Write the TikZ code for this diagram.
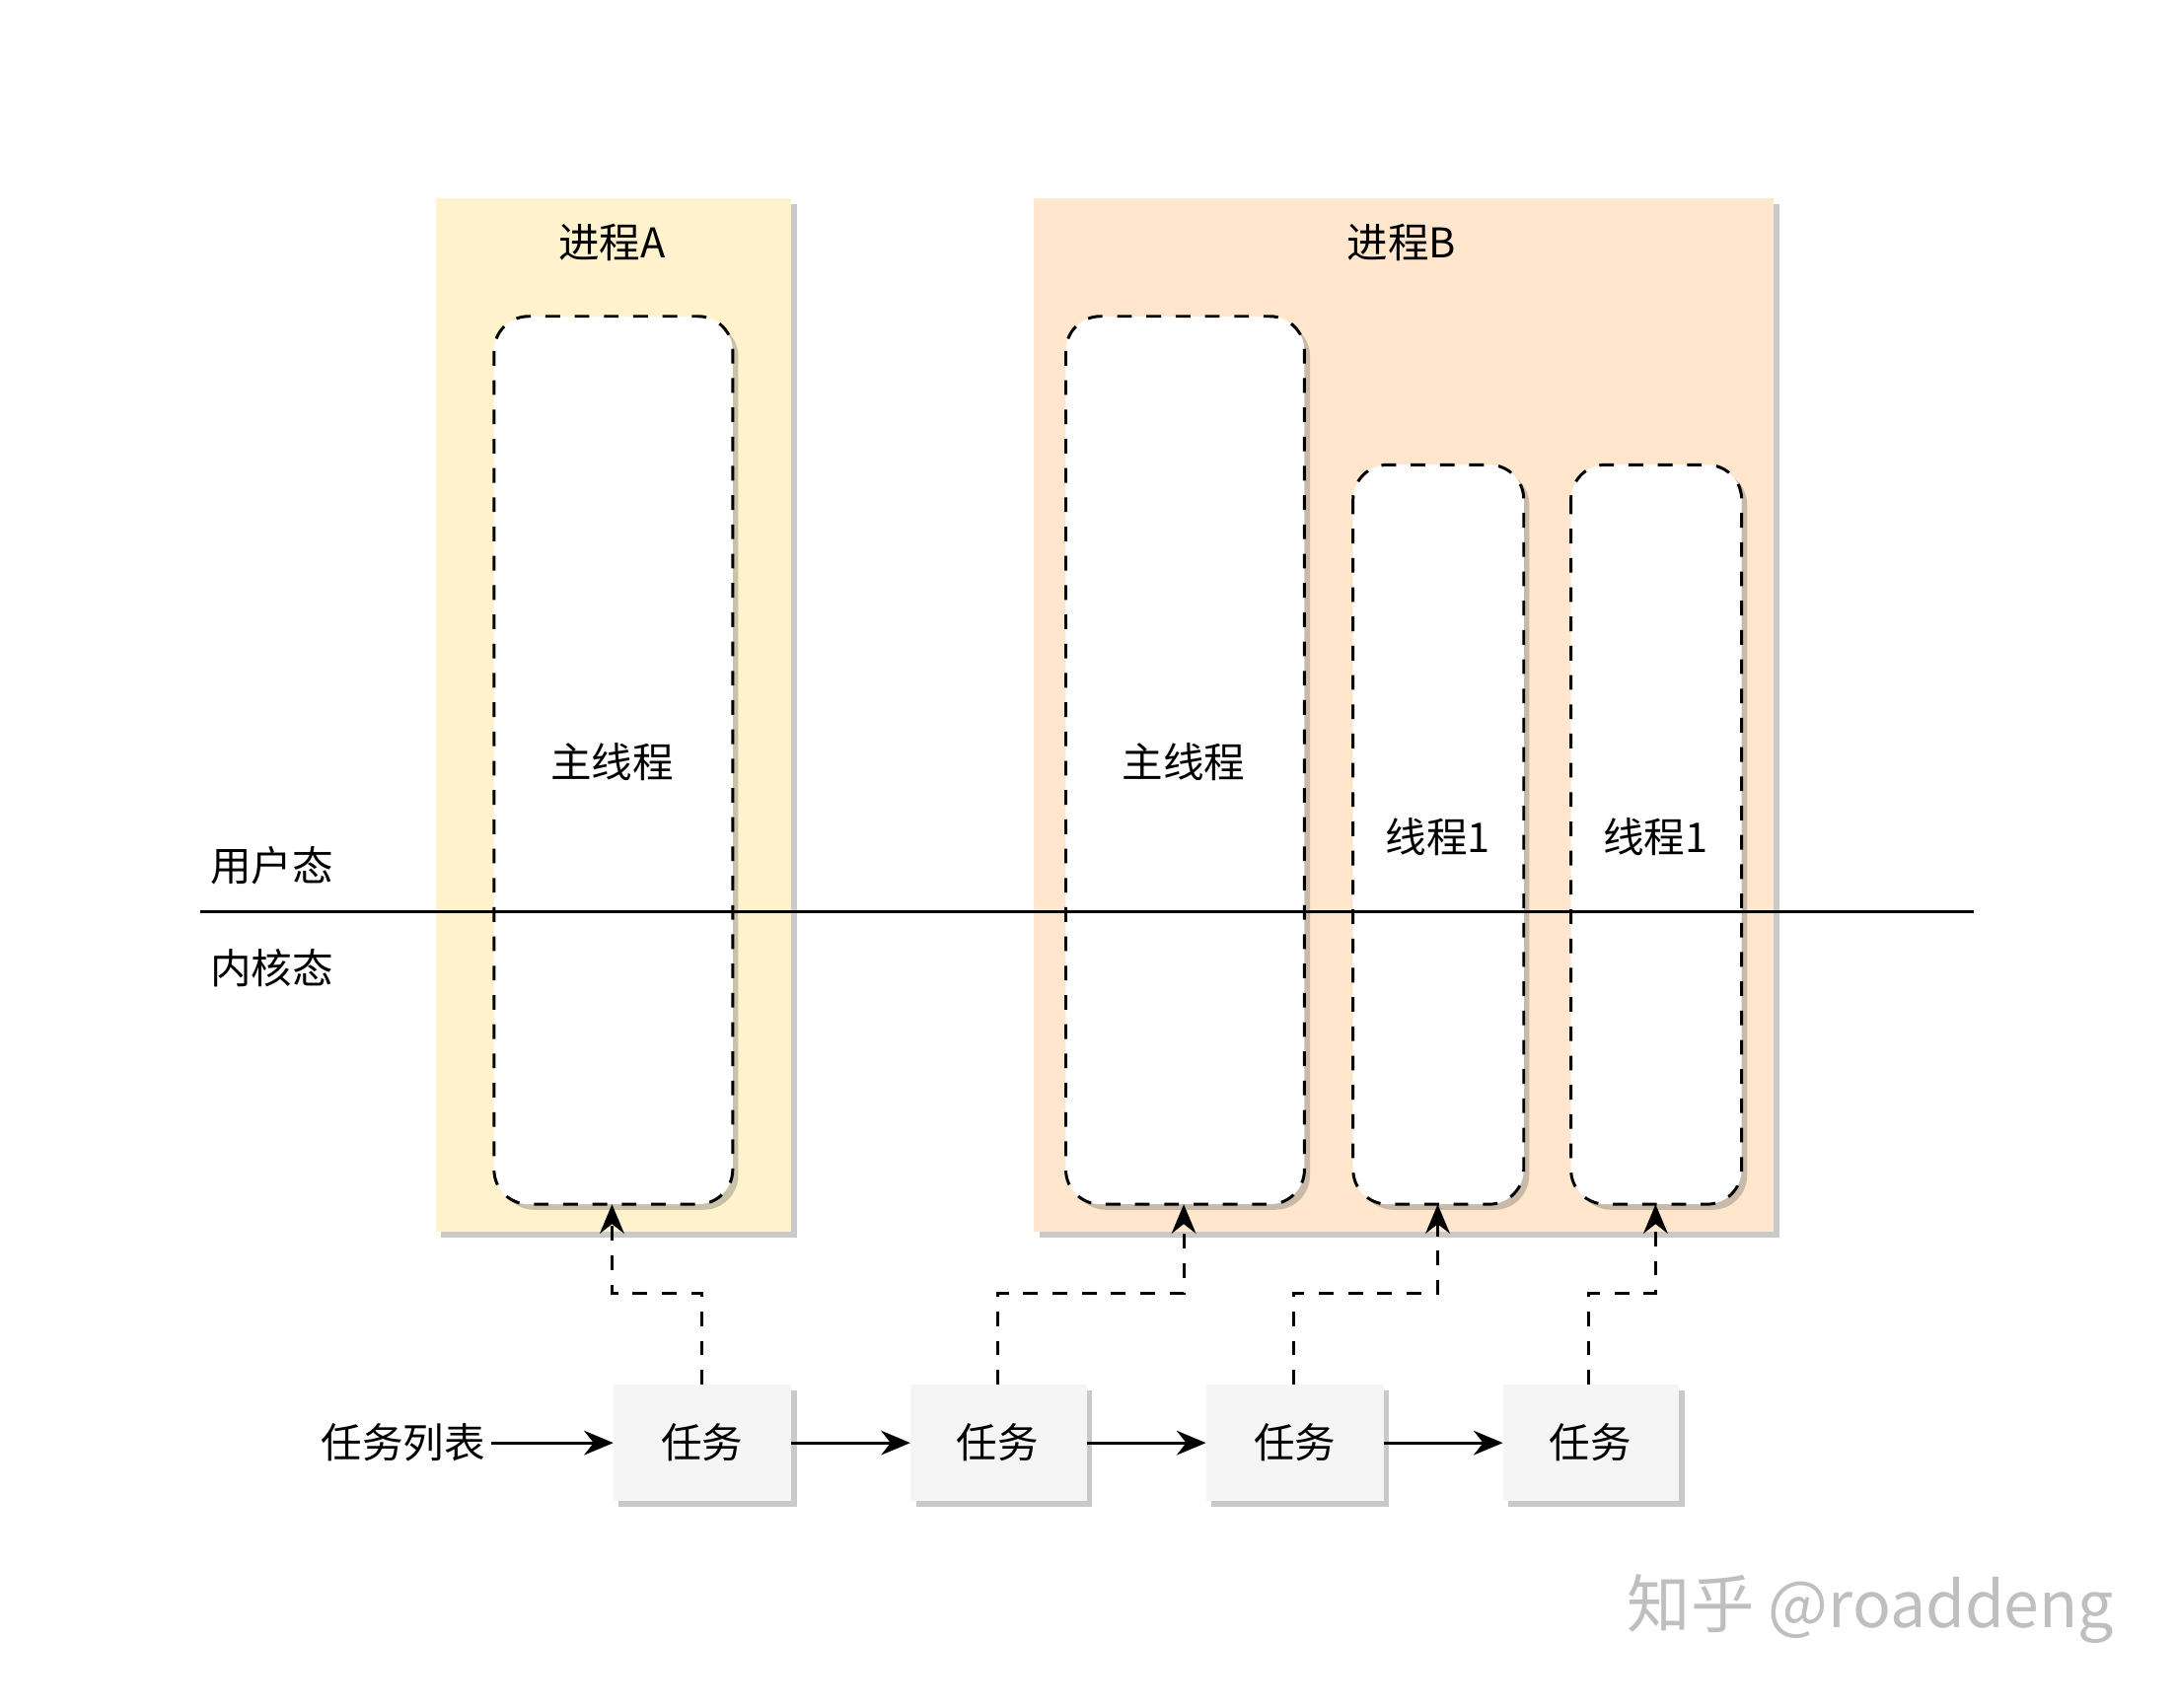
\documentclass[tikz,border=0pt]{standalone}
\usepackage{fontspec}
\setmainfont{Noto Sans CJK SC}
\usetikzlibrary{arrows.meta,shadows}
\definecolor{pa}{HTML}{FFF2CC}
\definecolor{pb}{HTML}{FFE6CC}
\definecolor{tk}{HTML}{F5F5F5}
\begin{document}
\begin{tikzpicture}[x=0.01cm,y=-0.01cm,
  font=\fontsize{8.4}{10}\selectfont,
  sh/.style={drop shadow={shadow xshift=0.04cm,shadow yshift=-0.04cm,opacity=0.35,fill=black!60}},
  proc/.style={sh,draw=none},
  thr/.style={sh,draw,dashed,fill=white,rounded corners=0.25cm,line width=0.6pt},
  task/.style={sh,fill=tk,draw=none},
  arr/.style={-{Stealth[length=6pt,width=5pt]},line width=0.6pt},
  darr/.style={arr,dashed}]
\useasboundingbox (0,0) rectangle (1568,1231);
\fill[white] (0,0) rectangle (1568,1231);
\path[proc,fill=pa] (314,143) rectangle (570,888);
\path[proc,fill=pb] (745,143) rectangle (1278,888);
\node at (441,175) {进程A};
\node at (1010,175) {进程B};
\draw[thr] (356,228) rectangle (528,868);
\draw[thr] (768,228) rectangle (940,868);
\draw[thr] (975,335) rectangle (1098,868);
\draw[thr] (1132,335) rectangle (1255,868);
\coordinate (ta) at (441,868); \coordinate (tb) at (853,868);
\coordinate (tc) at (1036,868); \coordinate (td) at (1193,868);
\node at (441,549) {主线程};
\node at (853,549) {主线程};
\node at (1036,603) {线程1};
\node at (1193,603) {线程1};
\draw[line width=0.6pt] (144,657) -- (1422,657);
\node at (196,624) {用户态};
\node at (196,698) {内核态};
\path[task] (442,998) rectangle (570,1082); \node (k1) at (506,1040) {任务};
\path[task] (656,998) rectangle (783,1082); \node (k2) at (719,1040) {任务};
\path[task] (869,998) rectangle (997,1082); \node (k3) at (933,1040) {任务};
\path[task] (1083,998) rectangle (1210,1082); \node (k4) at (1146,1040) {任务};
\node[anchor=east,inner sep=1pt] (list) at (354,1040) {任务列表};
\coordinate (e1) at (442,1040); \coordinate (s1) at (570,1040);
\coordinate (e2) at (656,1040); \coordinate (s2) at (783,1040);
\coordinate (e3) at (869,1040); \coordinate (s3) at (997,1040);
\coordinate (e4) at (1083,1040);
\draw[arr] (list) -- (e1);
\draw[arr] (s1) -- (e2);
\draw[arr] (s2) -- (e3);
\draw[arr] (s3) -- (e4);
\draw[darr] (506,998) -- (506,932) -- (441,932) -- (ta);
\draw[darr] (719,998) -- (719,932) -- (853,932) -- (tb);
\draw[darr] (932,998) -- (932,932) -- (1036,932) -- (tc);
\draw[darr] (1145,998) -- (1145,932) -- (1193,932) -- (td);
\node[text=black!25,font=\fontsize{13}{15}\selectfont] at (1348,1160) {知乎 @roaddeng};
\end{tikzpicture}
\end{document}
